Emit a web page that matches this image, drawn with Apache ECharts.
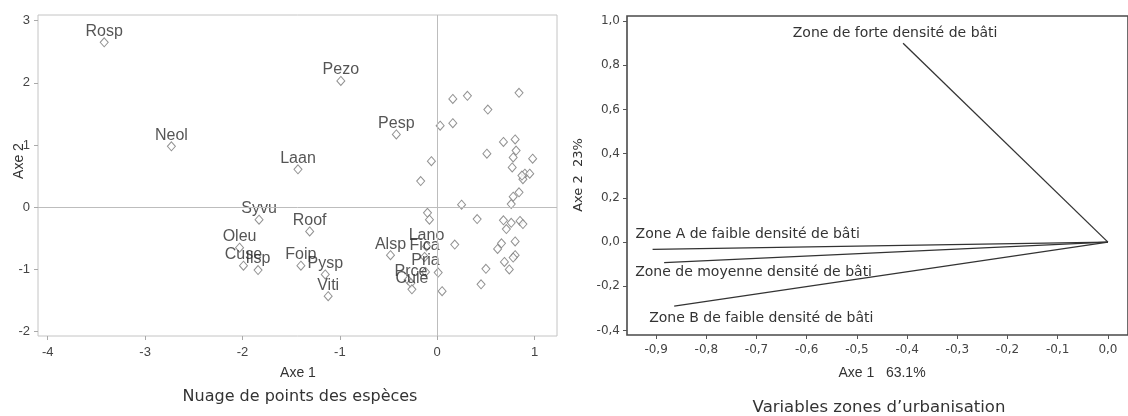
<!DOCTYPE html>
<html><head><meta charset="utf-8">
<script src="https://cdn.jsdelivr.net/npm/echarts@6/dist/echarts.min.js"></script>
<style>html,body{margin:0;padding:0;background:#fff}#c{width:1128px;height:416px}</style>
</head><body><div id="c"></div>
<script>
// ---- Left panel: species scatter ----
const speciesNames = ['Rosp','Neol','Pezo','Pesp','Laan','Syvu','Roof','Oleu','Cuse','Ilsp','Foip','Pysp','Viti','Alsp','Lano','Fica','Pria','Prce','Cule'];
const speciesAxe1 = [-3.42,-2.73,-0.99,-0.42,-1.43,-1.83,-1.31,-2.03,-1.99,-1.84,-1.40,-1.15,-1.12,-0.48,-0.11,-0.13,-0.12,-0.27,-0.26];
const speciesAxe2 = [2.65,0.98,2.03,1.17,0.61,-0.20,-0.39,-0.65,-0.94,-1.01,-0.94,-1.08,-1.43,-0.77,-0.63,-0.80,-1.04,-1.22,-1.32];
const otherAxe1 = [0.16,0.31,0.84,0.52,0.03,0.16,-0.06,-0.17,0.25,0.51,0.68,0.80,0.81,0.78,0.98,0.77,0.90,0.95,0.88,0.87,0.84,0.78,0.76,-0.10,-0.08,0.41,0.68,0.76,0.85,0.88,0.71,0.18,0.80,0.66,0.62,0.80,0.78,0.69,0.74,0.50,0.45,0.01,0.05,-0.30];
const otherAxe2 = [1.74,1.79,1.84,1.57,1.31,1.35,0.74,0.42,0.04,0.86,1.05,1.09,0.91,0.80,0.78,0.64,0.54,0.54,0.45,0.51,0.24,0.17,0.05,-0.09,-0.20,-0.19,-0.21,-0.25,-0.22,-0.27,-0.35,-0.60,-0.55,-0.58,-0.67,-0.77,-0.81,-0.88,-1.00,-0.99,-1.24,-1.05,-1.35,-1.17];
const leftXTicks = [-4,-3,-2,-1,0,1];
const leftYTicks = [-2,-1,0,1,2,3];

// ---- Right panel: urbanisation zone vectors ----
const zoneNames = ['Zone de forte densité de bâti','Zone A de faible densité de bâti','Zone de moyenne densité de bâti','Zone B de faible densité de bâti'];
const zoneAxe1 = [-0.408,-0.907,-0.884,-0.864];
const zoneAxe2 = [0.90,-0.033,-0.093,-0.289];
const rightXTicks = [-0.9,-0.8,-0.7,-0.6,-0.5,-0.4,-0.3,-0.2,-0.1,0.0];
const rightYTicks = [-0.4,-0.2,0.0,0.2,0.4,0.6,0.8,1.0];

// label styling (not data)
const zoneLabelStyle = [
  {offset:[-8,-10], align:'center'},
  {offset:[-17,-15], align:'left'},
  {offset:[-29,10], align:'left'},
  {offset:[-25,12], align:'left'}
];

const leftFont = '"Liberation Sans", Arial, sans-serif';
const rightFont = '"DejaVu Sans", sans-serif';
const fmtComma = v => (Math.abs(v) < 1e-9 ? 0 : v).toFixed(1).replace('.', ',');

const chart = echarts.init(document.getElementById('c'), null, {renderer:'canvas'});

const speciesData = speciesNames.map((n,i)=>({name:n, value:[speciesAxe1[i], speciesAxe2[i]]}));
const otherData = otherAxe1.map((x,i)=>[x, otherAxe2[i]]);

const diamondStyle = {color:'#fff', borderColor:'#777', borderWidth:1};

const zoneSeries = zoneNames.map((n,i)=>({
  type:'line', xAxisIndex:1, yAxisIndex:1, name:n,
  symbol:'circle', symbolSize:0.1, showSymbol:true,
  lineStyle:{color:'#333', width:1.3},
  animation:false, silent:true,
  data:[
    {value:[0,0], label:{show:false}},
    {value:[zoneAxe1[i], zoneAxe2[i]], label:{
      show:true, position:'inside', formatter:n,
      offset:zoneLabelStyle[i].offset, align:zoneLabelStyle[i].align, verticalAlign:'middle',
      fontFamily:rightFont, fontSize:14, color:'#333'
    }}
  ]
}));

chart.setOption({
  animation:false,
  backgroundColor:'#fff',
  grid:[
    {left:38, right:571, top:15, bottom:80, show:true, borderColor:'#c4c4c4', borderWidth:1, backgroundColor:'transparent'},
    {left:627, right:-3, top:16, bottom:81, show:true, borderColor:'#4a4a4a', borderWidth:1.6, backgroundColor:'transparent'}
  ],
  xAxis:[
    {type:'value', gridIndex:0, min:-4.10, max:1.23,
     axisLine:{show:false, onZero:false}, splitLine:{show:false},
     axisTick:{show:true, inside:false, length:4, lineStyle:{color:'#aaa'}, customValues:leftXTicks},
     axisLabel:{customValues:leftXTicks, margin:10, fontFamily:leftFont, fontSize:13, color:'#444'}},
    {type:'value', gridIndex:1, min:-0.958, max:0.04,
     axisLine:{show:false, onZero:false}, splitLine:{show:false},
     axisTick:{show:true, inside:false, length:4, lineStyle:{color:'#555'}, customValues:rightXTicks},
     axisLabel:{customValues:rightXTicks, formatter:fmtComma, margin:9, fontFamily:rightFont, fontSize:12, color:'#444'}}
  ],
  yAxis:[
    {type:'value', gridIndex:0, min:-2.07, max:3.09,
     axisLine:{show:false, onZero:false}, splitLine:{show:false},
     axisTick:{show:true, inside:false, length:4, lineStyle:{color:'#aaa'}, customValues:leftYTicks},
     axisLabel:{customValues:leftYTicks, margin:8, fontFamily:leftFont, fontSize:13, color:'#444'}},
    {type:'value', gridIndex:1, min:-0.42, max:1.023,
     axisLine:{show:false, onZero:false}, splitLine:{show:false},
     axisTick:{show:true, inside:false, length:4, lineStyle:{color:'#555'}, customValues:rightYTicks},
     axisLabel:{customValues:rightYTicks, formatter:fmtComma, margin:7, fontFamily:rightFont, fontSize:12, color:'#444'}}
  ],
  series:[
    {type:'scatter', xAxisIndex:0, yAxisIndex:0, symbol:'diamond', symbolSize:[8,9],
     itemStyle:diamondStyle, silent:true, data:otherData,
     markLine:{silent:true, symbol:'none', animation:false, label:{show:false},
       lineStyle:{color:'#bdbdbd', type:'solid', width:1},
       data:[{xAxis:0},{yAxis:0}]}},
    {type:'scatter', xAxisIndex:0, yAxisIndex:0, symbol:'diamond', symbolSize:[8,9],
     itemStyle:diamondStyle, silent:true, data:speciesData,
     label:{show:true, position:'top', distance:-2, formatter:'{b}', fontFamily:leftFont, fontSize:16, color:'#2a2a2a'},
     labelLayout:{hideOverlap:false}}
  ].concat(zoneSeries),
  graphic:[
    {type:'text', x:19, y:161, rotation:Math.PI/2, style:{text:'Axe 2', font:'14px '+leftFont, fill:'#333', textAlign:'center', textVerticalAlign:'middle'}},
    {type:'text', x:298, y:373, style:{text:'Axe 1', font:'14px '+leftFont, fill:'#333', textAlign:'center', textVerticalAlign:'middle'}},
    {type:'text', x:300, y:397, style:{text:'Nuage de points des espèces', font:'16px '+rightFont, fill:'#333', textAlign:'center', textVerticalAlign:'middle'}},
    {type:'text', x:579, y:175, rotation:Math.PI/2, style:{text:'Axe 2  23%', font:'13px '+rightFont, fill:'#333', textAlign:'center', textVerticalAlign:'middle'}},
    {type:'text', x:882, y:373, style:{text:'Axe 1   63.1%', font:'14px '+leftFont, fill:'#333', textAlign:'center', textVerticalAlign:'middle'}},
    {type:'text', x:879, y:408, style:{text:'Variables zones d\u2019urbanisation', font:'16.5px '+rightFont, fill:'#333', textAlign:'center', textVerticalAlign:'middle'}}
  ]
});
</script></body></html>
